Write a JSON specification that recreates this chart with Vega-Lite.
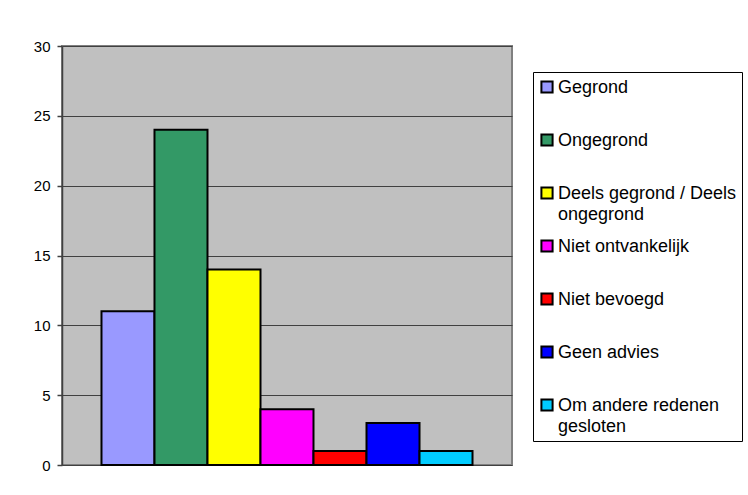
{
  "$schema": "https://vega.github.io/schema/vega-lite/v6.json",
  "width": 450,
  "height": 419,
  "autosize": {"type": "none"},
  "padding": {"left": 62, "top": 46, "right": 236, "bottom": 30},
  "background": "white",
  "data": {
    "values": [
      {"categorie": "Gegrond", "aantal": 11, "volgorde": 1},
      {"categorie": "Ongegrond", "aantal": 24, "volgorde": 2},
      {"categorie": "Deels gegrond / Deels ongegrond", "aantal": 14, "volgorde": 3},
      {"categorie": "Niet ontvankelijk", "aantal": 4, "volgorde": 4},
      {"categorie": "Niet bevoegd", "aantal": 1, "volgorde": 5},
      {"categorie": "Geen advies", "aantal": 3, "volgorde": 6},
      {"categorie": "Om andere redenen gesloten", "aantal": 1, "volgorde": 7}
    ]
  },
  "mark": {"type": "bar", "stroke": "black", "strokeWidth": 2, "opacity": 1},
  "encoding": {
    "x": {
      "field": "categorie",
      "type": "nominal",
      "sort": {"field": "volgorde"},
      "scale": {"paddingInner": 0, "paddingOuter": 0.745},
      "axis": null
    },
    "y": {
      "field": "aantal",
      "type": "quantitative",
      "scale": {"domain": [0, 30], "nice": false},
      "axis": {
        "title": null,
        "values": [0, 5, 10, 15, 20, 25, 30],
        "grid": true,
        "gridColor": "#404040",
        "gridWidth": 1,
        "gridOpacity": 1,
        "domainColor": "#404040",
        "domainWidth": 1.5,
        "tickColor": "#404040",
        "tickSize": 5,
        "tickWidth": 1.5,
        "labelFont": "Liberation Sans",
        "labelFontSize": 15,
        "labelColor": "black",
        "labelPadding": 7
      }
    },
    "color": {
      "field": "categorie",
      "type": "nominal",
      "sort": {"field": "volgorde"},
      "scale": {
        "domain": ["Gegrond", "Ongegrond", "Deels gegrond / Deels ongegrond", "Niet ontvankelijk", "Niet bevoegd", "Geen advies", "Om andere redenen gesloten"],
        "range": ["#9999FF", "#339966", "#FFFF00", "#FF00FF", "#FF0000", "#0000FF", "#00CCFF"]
      },
      "legend": {
        "title": null,
        "orient": "none",
        "legendX": 471,
        "legendY": 26,
        "strokeColor": "black",
        "fillColor": "white",
        "padding": 5,
        "symbolType": "square",
        "symbolSize": 125,
        "symbolStrokeColor": "black",
        "symbolStrokeWidth": 2,
        "symbolOpacity": 1,
        "labelFont": "Liberation Sans",
        "labelFontSize": 18,
        "labelColor": "black",
        "labelBaseline": "top",
        "labelOffset": 2,
        "labelLimit": 300,
        "rowPadding": 12,
        "labelExpr": "datum.label == 'Deels gegrond / Deels ongegrond' ? ['Deels gegrond / Deels', 'ongegrond'] : datum.label == 'Om andere redenen gesloten' ? ['Om andere redenen', 'gesloten'] : [datum.label, ' ']",
        "encode": {
          "symbols": {"update": {"y": {"value": 10}}},
          "labels": {"update": {"y": {"value": 2}, "lineHeight": {"value": 21}}}
        }
      }
    }
  },
  "config": {
    "view": {"fill": "#C0C0C0", "stroke": "#808080", "strokeWidth": 2}
  }
}
